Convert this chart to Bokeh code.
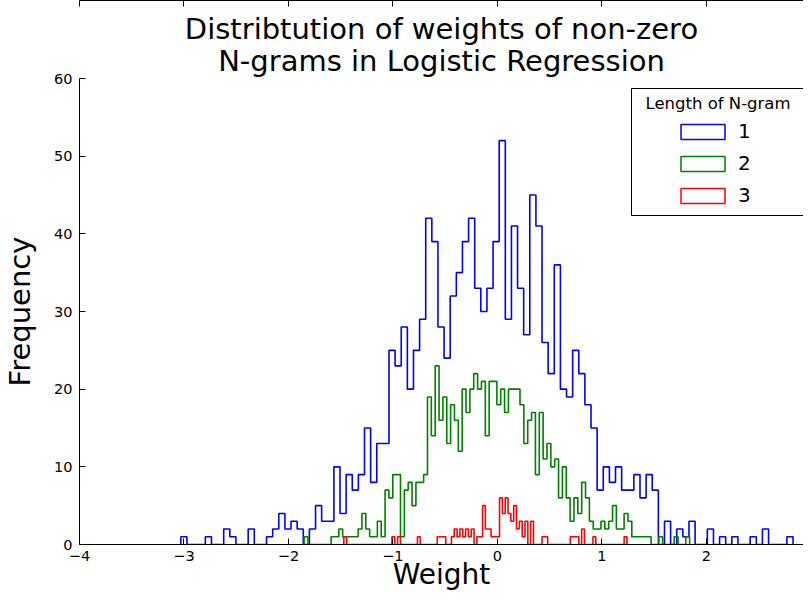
import numpy as np
from bokeh.plotting import figure
from bokeh.models import (Range1d, LinearAxis, Legend, LegendItem, FixedTicker, Title,
                          Label, BoxAnnotation)
from bokeh.embed import file_html
from bokeh.resources import INLINE

# ---- data ----
series_labels = ["1", "2", "3"]
series_colors = ["#0000ff", "#008000", "#ff0000"]

blue_range = (-3.03, 2.83)
blue_counts = [1, 0, 0, 0, 1, 0, 0, 2, 1, 0,
               0, 2, 0, 0, 1, 2, 4, 2, 3, 2,
               0, 2, 5, 3, 3, 10, 4, 9, 7, 9,
               15, 8, 13, 13, 25, 23, 28, 20, 25, 29,
               42, 39, 28, 24, 32, 35, 39, 42, 33, 30,
               33, 39, 52, 29, 41, 33, 27, 45, 41, 26,
               22, 36, 20, 19, 25, 22, 18, 15, 7, 10,
               8, 10, 7, 7, 9, 6, 9, 7, 0, 3,
               0, 2, 1, 3, 0, 0, 2, 0, 1, 0,
               1, 0, 0, 1, 0, 2, 0, 0, 0, 1]

green_range = (-1.85, 1.84)
green_counts = [1, 0, 0, 0, 0, 0, 0, 1, 1, 2,
                1, 1, 1, 1, 2, 4, 2, 1, 1, 3,
                1, 7, 6, 9, 9, 1, 7, 8, 5, 8,
                8, 9, 19, 14, 23, 16, 19, 13, 18, 16,
                12, 20, 17, 20, 22, 20, 21, 14, 21, 21,
                18, 20, 17, 20, 20, 20, 18, 13, 16, 17,
                9, 17, 11, 13, 10, 11, 6, 10, 6, 3,
                6, 4, 8, 6, 3, 2, 2, 3, 2, 3,
                5, 2, 2, 4, 3, 1, 1, 1, 1, 1,
                0, 0, 1, 0, 0, 0, 1, 0, 0, 1]

red_range = (-1.47, 1.24)
red_counts = [1, 0, 0, 0, 0, 0, 0, 0, 0, 0,
              0, 0, 0, 0, 0, 0, 0, 1, 0, 1,
              0, 0, 0, 0, 0, 0, 1, 0, 0, 0,
              0, 0, 0, 1, 1, 1, 0, 0, 1, 2,
              1, 2, 1, 2, 1, 2, 0, 1, 1, 5,
              2, 2, 1, 1, 1, 6, 4, 6, 4, 3,
              5, 2, 3, 1, 3, 0, 3, 0, 0, 0,
              1, 1, 0, 0, 0, 0, 0, 0, 0, 0,
              1, 1, 1, 0, 2, 0, 0, 0, 1, 0,
              0, 0, 0, 0, 0, 0, 0, 0, 0, 1]

x_view = (-4, 2.93)          # the reference's axis is cut off just short of 3
x_ticks = [-4, -3, -2, -1, 0, 1, 2, 3]
y_ticks = [0, 10, 20, 30, 40, 50, 60]

title_lines = ["Distribtution of weights of non-zero",
               "N-grams in Logistic Regression"]
x_label = "Weight"
y_label = "Frequency"
legend_title = "Length of N-gram"

FONT = "DejaVu Sans"


def step_xy(rng, counts):
    edges = np.linspace(rng[0], rng[1], len(counts) + 1)
    xs = np.repeat(edges, 2)
    ys = np.concatenate([[0], np.repeat(np.asarray(counts, dtype=float), 2), [0]])
    return edges, xs, ys


p = figure(width=803, height=593, output_backend="svg", toolbar_location=None,
           title=None,
           x_range=Range1d(*x_view), y_range=Range1d(0, 60),
           min_border_left=0, min_border_top=0, min_border_bottom=0,
           min_border_right=0)

# two centred title lines (bottom line first: later ones stack above)
p.add_layout(Title(text=title_lines[1], align="center", text_font=FONT,
                   text_font_size="29px", text_font_style="normal",
                   text_color="black", standoff=1), "above")
p.add_layout(Title(text=title_lines[0], align="center", text_font=FONT,
                   text_font_size="29px", text_font_style="normal",
                   text_color="black", standoff=-9), "above")
# blank spacer above the title block
p.add_layout(Title(text=" ", text_font=FONT, text_font_size="8px", standoff=3), "above")

p.grid.visible = False
p.outline_line_color = None
p.background_fill_color = "white"
p.border_fill_color = "white"

p.xaxis.ticker = FixedTicker(ticks=x_ticks, minor_ticks=[])
p.yaxis.ticker = FixedTicker(ticks=y_ticks, minor_ticks=[])
p.xaxis.major_label_overrides = {t: (str(t).replace("-", "\u2212")) for t in x_ticks}
for ax in (p.xaxis[0], p.yaxis[0]):
    ax.major_tick_in = 6
    ax.major_tick_out = 0
    ax.minor_tick_in = 0
    ax.minor_tick_out = 0
    ax.major_label_text_font = FONT
    ax.major_label_text_font_size = "14.5px"
    ax.major_label_text_color = "black"
    ax.axis_label_text_font = FONT
    ax.axis_label_text_font_style = "normal"
    ax.axis_label_text_color = "black"
    ax.axis_label_text_line_height = 1.0
    ax.axis_line_color = "black"
    ax.major_tick_line_color = "black"

p.xaxis.axis_label = x_label
p.xaxis.axis_label_text_font_size = "28px"
p.xaxis.major_label_standoff = 6
p.xaxis.axis_label_standoff = -6
p.yaxis.axis_label = y_label
p.yaxis.axis_label_text_font_size = "29px"
p.yaxis.major_label_standoff = 7
p.yaxis.axis_label_standoff = 14

top_axis = LinearAxis(ticker=FixedTicker(ticks=x_ticks, minor_ticks=[]),
                      major_label_overrides={t: "" for t in x_ticks},
                      major_label_text_font_size="1px", major_tick_in=6,
                      major_tick_out=0, minor_tick_in=0, minor_tick_out=0,
                      major_label_standoff=0, axis_line_color="black")
p.add_layout(top_axis, "above")

ranges = [blue_range, green_range, red_range]
countss = [blue_counts, green_counts, red_counts]
items = []
for lab, col, rng, cnt in zip(series_labels, series_colors, ranges, countss):
    edges, xs, ys = step_xy(rng, cnt)
    p.line(xs, ys, line_color=col, line_width=1.6)
    # hidden proxy (first bin of the series) that gives the legend its outlined box
    proxy = p.quad(left=edges[:1], right=edges[1:2], bottom=[0], top=cnt[:1],
                   fill_color=None, line_color=col, line_width=1.5, visible=False)
    items.append(LegendItem(label=lab, renderers=[proxy]))

# legend frame and centred title (screen units, measured from the frame's bottom-left)
legend_box = BoxAnnotation(left=552, right=725, bottom=329, top=456,
                           left_units="screen", right_units="screen",
                           bottom_units="screen", top_units="screen",
                           fill_color="white", fill_alpha=1,
                           line_color="black", line_width=1, line_alpha=1)
p.add_layout(legend_box)
legend_title_label = Label(x=638.5, y=441, x_units="screen", y_units="screen",
                           text=legend_title, text_font=FONT, text_font_size="16.5px",
                           text_color="black", text_align="center",
                           text_baseline="middle")
p.add_layout(legend_title_label)

legend = Legend(items=items, location=(596, 337))
legend.label_text_font = FONT
legend.label_text_font_size = "20px"
legend.label_text_color = "black"
legend.glyph_width = 55
legend.glyph_height = 19
legend.label_standoff = 8
legend.spacing = 8
legend.padding = 0
legend.margin = 0
legend.border_line_color = None
legend.background_fill_alpha = 0
legend.inactive_fill_alpha = 0
p.add_layout(legend)

html = file_html(p, INLINE)
open("out.html", "w").write(html)
